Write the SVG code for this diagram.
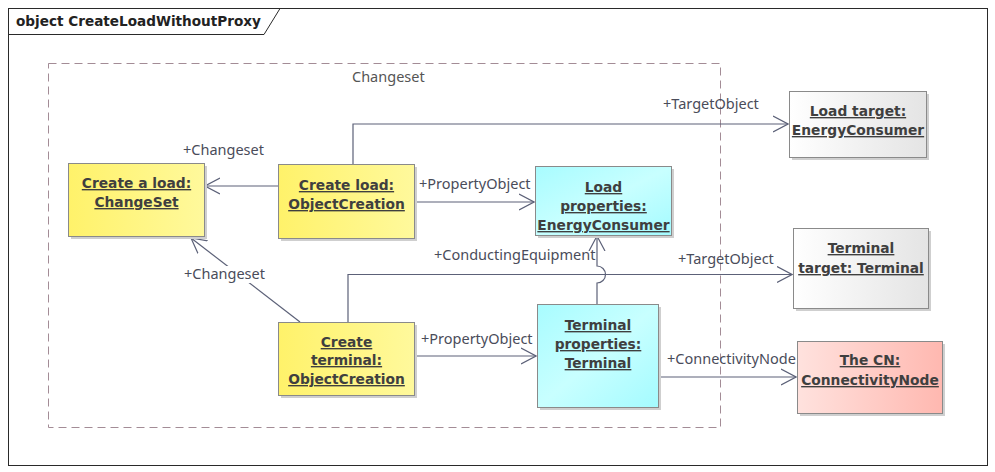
<svg xmlns="http://www.w3.org/2000/svg" width="995" height="472" viewBox="0 0 995 472">
<style>
.frame{fill:#fff;stroke:#2a2a2a;stroke-width:1}
.title{font-family:"DejaVu Sans",sans-serif;font-weight:bold;font-size:13.6px;fill:#222}
.pkg{fill:none;stroke:#a38c96;stroke-width:1;stroke-dasharray:8 5}
.pkglabel{font-family:"Noto Sans","Open Sans",sans-serif;font-size:14.5px;fill:#555}
.shadow{fill:#cfcfcf}
.box{stroke:#8a8a8a;stroke-width:1}
.nt{font-family:"DejaVu Sans",sans-serif;font-weight:bold;font-size:13.8px;fill:#3f3f3f;text-anchor:middle;text-decoration:underline}
.conn{fill:none;stroke:#5c6178;stroke-width:1.2}
.lbl{font-family:"Noto Sans","Open Sans",sans-serif;font-size:14.5px;fill:#4a4c5a}
</style>
<defs>
<linearGradient id="gY" x1="0" y1="0" x2="1" y2="0"><stop offset="0" stop-color="#fff26a"/><stop offset="1" stop-color="#fff99c"/></linearGradient>
<linearGradient id="gC" x1="0" y1="0" x2="1" y2="1"><stop offset="0" stop-color="#a8fcff"/><stop offset="0.5" stop-color="#c8ffff"/><stop offset="1" stop-color="#a4fbff"/></linearGradient>
<linearGradient id="gG" x1="0" y1="0" x2="1" y2="0"><stop offset="0" stop-color="#ffffff"/><stop offset="1" stop-color="#e4e4e4"/></linearGradient>
<linearGradient id="gP" x1="0" y1="0" x2="1" y2="0"><stop offset="0" stop-color="#ffe2de"/><stop offset="1" stop-color="#ffb8b0"/></linearGradient>
<marker id="arr" viewBox="0 0 16 18" refX="15" refY="9" markerWidth="16" markerHeight="18" markerUnits="userSpaceOnUse" orient="auto">
<path d="M0,1 L15,9 L0,17" fill="none" stroke="#5c6178" stroke-width="1.2"/>
</marker>
</defs>

<rect class="frame" x="8.5" y="8.5" width="979" height="457"/>
<path d="M8.5,34.5 H264 L280,8.5" fill="none" stroke="#2a2a2a" stroke-width="1"/>
<text class="title" x="16" y="26">object CreateLoadWithoutProxy</text>

<g id="changeset-package">
<rect class="pkg" x="48.5" y="63.5" width="672" height="364"/>
<text class="pkglabel" x="352" y="82">Changeset</text>
</g>

<g id="connectors">
<path class="conn" d="M278,186 H205" marker-end="url(#arr)"/>
<text class="lbl" x="183" y="155">+Changeset</text>

<path class="conn" d="M353,164 V124 H788" marker-end="url(#arr)"/>
<text class="lbl" x="663" y="109">+TargetObject</text>

<path class="conn" d="M414,202 H534" marker-end="url(#arr)"/>
<text class="lbl" x="419" y="189">+PropertyObject</text>

<path class="conn" d="M300,322 L191,238" marker-end="url(#arr)"/>
<rect x="182" y="266" width="88" height="17" fill="#fff"/>
<text class="lbl" x="184" y="279">+Changeset</text>

<path class="conn" d="M348,322 V274.5 H792" marker-end="url(#arr)"/>
<text class="lbl" x="678" y="264">+TargetObject</text>

<path class="conn" d="M414,356 H536" marker-end="url(#arr)"/>
<text class="lbl" x="421" y="344">+PropertyObject</text>

<path class="conn" d="M597,304 V283 A8 8 0 0 0 597,266 V236" marker-end="url(#arr)"/>
<text class="lbl" x="434" y="260">+ConductingEquipment</text>

<path class="conn" d="M658,377 H796" marker-end="url(#arr)"/>
<text class="lbl" x="667" y="364">+ConnectivityNode</text>
</g>

<g id="create-a-load">
<rect class="shadow" x="71" y="166" width="136" height="73"/>
<rect class="box" x="68.5" y="163.5" width="136" height="73" fill="url(#gY)"/>
<text class="nt" x="136.5" y="188">Create a load:</text>
<text class="nt" x="136.5" y="207">ChangeSet</text>
</g>

<g id="create-load">
<rect class="shadow" x="281" y="167" width="136" height="74"/>
<rect class="box" x="278.5" y="164.5" width="136" height="74" fill="url(#gY)"/>
<text class="nt" x="346.5" y="190">Create load:</text>
<text class="nt" x="346.5" y="209">ObjectCreation</text>
</g>

<g id="load-properties">
<rect class="shadow" x="538" y="169" width="136" height="69"/>
<rect class="box" x="535.5" y="166.5" width="136" height="69" fill="url(#gC)"/>
<text class="nt" x="603.5" y="192">Load</text>
<text class="nt" x="603.5" y="211">properties:</text>
<text class="nt" x="603.5" y="230">EnergyConsumer</text>
</g>

<g id="load-target">
<rect class="shadow" x="792" y="94" width="137" height="66"/>
<rect class="box" x="789.5" y="91.5" width="137" height="66" fill="url(#gG)"/>
<text class="nt" x="858" y="116">Load target:</text>
<text class="nt" x="858" y="135">EnergyConsumer</text>
</g>

<g id="terminal-target">
<rect class="shadow" x="796" y="231" width="135" height="80"/>
<rect class="box" x="793.5" y="228.5" width="135" height="80" fill="url(#gG)"/>
<text class="nt" x="861" y="253">Terminal</text>
<text class="nt" x="861" y="273">target: Terminal</text>
</g>

<g id="create-terminal">
<rect class="shadow" x="281" y="325" width="136" height="73"/>
<rect class="box" x="278.5" y="322.5" width="136" height="73" fill="url(#gY)"/>
<text class="nt" x="346.5" y="347">Create</text>
<text class="nt" x="346.5" y="365">terminal:</text>
<text class="nt" x="346.5" y="384">ObjectCreation</text>
</g>

<g id="terminal-properties">
<rect class="shadow" x="540" y="307" width="121" height="103"/>
<rect class="box" x="537.5" y="304.5" width="121" height="103" fill="url(#gC)"/>
<text class="nt" x="598" y="330">Terminal</text>
<text class="nt" x="598" y="349">properties:</text>
<text class="nt" x="598" y="368">Terminal</text>
</g>

<g id="the-cn">
<rect class="shadow" x="800" y="344" width="145" height="72"/>
<rect class="box" x="797.5" y="341.5" width="145" height="72" fill="url(#gP)"/>
<text class="nt" x="870" y="365">The CN:</text>
<text class="nt" x="870" y="385">ConnectivityNode</text>
</g>
</svg>
